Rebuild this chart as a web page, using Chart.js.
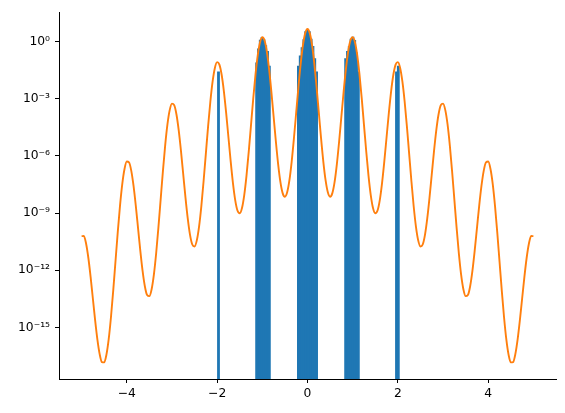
<!DOCTYPE html>
<html>
<head>
<meta charset="utf-8">
<script src="https://cdn.jsdelivr.net/npm/chart.js@4.4.1/dist/chart.umd.min.js"></script>
<style>
    html, body { margin: 0; padding: 0; background: #fff; }
    #chart { display: block; }
</style>
</head>
<body>
<canvas id="chart" width="565" height="413"></canvas>
<script>
// 曲线采样点横坐标
const curveX = [
    -5, -4.95, -4.9, -4.85, -4.8, -4.75, -4.7, -4.65, -4.6, -4.55,
    -4.5, -4.45, -4.4, -4.35, -4.3, -4.25, -4.2, -4.15, -4.1, -4.05,
    -4, -3.95, -3.9, -3.85, -3.8, -3.75, -3.7, -3.65, -3.6, -3.55,
    -3.5, -3.45, -3.4, -3.35, -3.3, -3.25, -3.2, -3.15, -3.1, -3.05,
    -3, -2.95, -2.9, -2.85, -2.8, -2.75, -2.7, -2.65, -2.6, -2.55,
    -2.5, -2.45, -2.4, -2.35, -2.3, -2.25, -2.2, -2.15, -2.1, -2.05,
    -2, -1.95, -1.9, -1.85, -1.8, -1.75, -1.7, -1.65, -1.6, -1.55,
    -1.5, -1.45, -1.4, -1.35, -1.3, -1.25, -1.2, -1.15, -1.1, -1.05,
    -1, -0.95, -0.9, -0.85, -0.8, -0.75, -0.7, -0.65, -0.6, -0.55,
    -0.5, -0.45, -0.4, -0.35, -0.3, -0.25, -0.2, -0.15, -0.1, -0.05,
    0,
    0.05, 0.1, 0.15, 0.2, 0.25, 0.3, 0.35, 0.4, 0.45, 0.5,
    0.55, 0.6, 0.65, 0.7, 0.75, 0.8, 0.85, 0.9, 0.95, 1,
    1.05, 1.1, 1.15, 1.2, 1.25, 1.3, 1.35, 1.4, 1.45, 1.5,
    1.55, 1.6, 1.65, 1.7, 1.75, 1.8, 1.85, 1.9, 1.95, 2,
    2.05, 2.1, 2.15, 2.2, 2.25, 2.3, 2.35, 2.4, 2.45, 2.5,
    2.55, 2.6, 2.65, 2.7, 2.75, 2.8, 2.85, 2.9, 2.95, 3,
    3.05, 3.1, 3.15, 3.2, 3.25, 3.3, 3.35, 3.4, 3.45, 3.5,
    3.55, 3.6, 3.65, 3.7, 3.75, 3.8, 3.85, 3.9, 3.95, 4,
    4.05, 4.1, 4.15, 4.2, 4.25, 4.3, 4.35, 4.4, 4.45, 4.5,
    4.55, 4.6, 4.65, 4.7, 4.75, 4.8, 4.85, 4.9, 4.95, 5
];

// 曲线纵坐标：在对数轴上读出的 10 的指数
const curveLog10 = [
    -10.207, -10.203, -10.606, -11.355, -12.356, -13.491, -14.628, -15.636, -16.395, -16.814,
    -16.830, -16.423, -15.614, -14.463, -13.064, -11.537, -10.011, -8.619, -7.479, -6.685,
    -6.298, -6.338, -6.784, -7.577, -8.621, -9.799, -10.980, -12.031, -12.834, -13.296,
    -13.355, -12.992, -12.226, -11.119, -9.764, -8.279, -6.797, -5.449, -4.352, -3.602,
    -3.258, -3.341, -3.831, -4.667, -5.755, -6.976, -8.200, -9.295, -10.142, -10.647,
    -10.749, -10.429, -9.707, -8.643, -7.332, -5.891, -4.452, -3.147, -2.094, -1.387,
    -1.086, -1.213, -1.746, -2.626, -3.757, -5.022, -6.289, -7.427, -8.317, -8.866,
    -9.012, -8.736, -8.057, -7.036, -5.768, -4.371, -2.975, -1.714, -0.704, -0.040,
    0.217, 0.047, -0.530, -1.453, -2.628, -3.936, -5.247, -6.428, -7.362, -7.954,
    -8.144, -7.910, -7.275, -6.298, -5.073, -3.719, -2.367, -1.149, -0.183, 0.437,
    0.651,
    0.437, -0.183, -1.149, -2.367, -3.719, -5.073, -6.298, -7.275, -7.910, -8.144,
    -7.954, -7.362, -6.428, -5.247, -3.936, -2.628, -1.453, -0.530, 0.047, 0.217,
    -0.040, -0.704, -1.714, -2.975, -4.371, -5.768, -7.036, -8.057, -8.736, -9.012,
    -8.866, -8.317, -7.427, -6.289, -5.022, -3.757, -2.626, -1.746, -1.213, -1.086,
    -1.387, -2.094, -3.147, -4.452, -5.891, -7.332, -8.643, -9.707, -10.429, -10.749,
    -10.647, -10.142, -9.295, -8.200, -6.976, -5.755, -4.667, -3.831, -3.341, -3.258,
    -3.602, -4.352, -5.449, -6.797, -8.279, -9.764, -11.119, -12.226, -12.992, -13.355,
    -13.296, -12.834, -12.031, -10.980, -9.799, -8.621, -7.577, -6.784, -6.338, -6.298,
    -6.685, -7.479, -8.619, -10.011, -11.537, -13.064, -14.463, -15.614, -16.423, -16.830,
    -16.814, -16.395, -15.636, -14.628, -13.491, -12.356, -11.355, -10.606, -10.203, -10.207
];

// 直方图：各非空箱的中心与密度
const binCenters = [
    -1.9699,
    -1.1257, -1.0855, -1.0453, -1.0051, -0.9649, -0.9247, -0.8845, -0.8443,
    -0.2011, -0.1609, -0.1207, -0.0805, -0.0403, -0.0001, 0.0401, 0.0803, 0.1205, 0.1607, 0.2009,
    0.8441, 0.8843, 0.9245, 0.9647, 1.0049, 1.0451, 1.0853, 1.1255,
    1.9697, 2.0099
];
const binDensity = [
    0.0249,
    0.0746, 0.398, 1.144, 1.592, 1.244, 0.597, 0.299, 0.0498,
    0.0498, 0.174, 0.473, 1.244, 3.185, 4.279, 3.234, 1.294, 0.547, 0.124, 0.0249,
    0.124, 0.299, 0.547, 1.294, 1.642, 1.120, 0.249, 0.0249,
    0.0249, 0.0498
];

// 坐标轴
const xTicks = [-4, -2, 0, 2, 4];
const xRange = [-5.5, 5.5];
const yTickExponents = [0, -3, -6, -9, -12, -15];
const yRangeExponents = [-17.70, 1.525];

const SUPERSCRIPT = {
    '0': '⁰', '1': '¹', '2': '²', '3': '³', '4': '⁴',
    '5': '⁵', '6': '⁶', '7': '⁷', '8': '⁸', '9': '⁹', '-': '⁻'
};

const tickFont = { family: 'DejaVu Sans', size: 12.3 };

// 10 的幂标签
function powerLabel(value) {
    const exp = Math.round(Math.log10(value));
    return '10' + String(exp).split('').map(c => SUPERSCRIPT[c]).join('');
}

const curveData = curveX.map((x, i) => ({ x: x, y: Math.pow(10, curveLog10[i]) }));
const histData = binCenters.map((x, i) => ({ x: x, y: binDensity[i] }));

new Chart(document.getElementById('chart'), {
    type: 'bar',
    data: {
        datasets: [
            {
                type: 'line',
                data: curveData,
                borderColor: '#ff7f0e',
                borderWidth: 1.9,
                pointRadius: 0,
                cubicInterpolationMode: 'monotone',
                fill: false,
                order: 1
            },
            {
                type: 'bar',
                data: histData,
                backgroundColor: '#1f77b4',
                borderWidth: 0,
                barPercentage: 1,
                categoryPercentage: 1,
                inflateAmount: 0.5,
                order: 2
            }
        ]
    },
    options: {
        responsive: false,
        animation: false,
        devicePixelRatio: 1,
        layout: {
            padding: { top: 10, right: 9, left: 0, bottom: 0 }
        },
        plugins: {
            legend: { display: false },
            tooltip: { enabled: false }
        },
        scales: {
            x: {
                type: 'linear',
                min: xRange[0],
                max: xRange[1],
                offset: false,
                grid: {
                    offset: false,
                    drawOnChartArea: false,
                    drawTicks: true,
                    tickLength: 4,
                    tickColor: '#000'
                },
                border: { display: true, color: '#000', width: 1 },
                afterBuildTicks(scale) {
                    scale.ticks = xTicks.map(v => ({ value: v }));
                },
                afterFit(scale) {
                    scale.height = 34;
                },
                ticks: {
                    autoSkip: false,
                    maxRotation: 0,
                    padding: 3,
                    color: '#000',
                    font: tickFont,
                    callback: value => String(value).replace('-', '\u2212')
                }
            },
            y: {
                type: 'logarithmic',
                min: Math.pow(10, yRangeExponents[0]),
                max: Math.pow(10, yRangeExponents[1]),
                grid: {
                    drawOnChartArea: false,
                    drawTicks: true,
                    tickLength: 4,
                    tickColor: '#000'
                },
                border: { display: true, color: '#000', width: 1 },
                afterBuildTicks(scale) {
                    scale.ticks = yTickExponents.map(e => ({ value: Math.pow(10, e) }));
                },
                afterFit(scale) {
                    scale.width = 59;
                },
                ticks: {
                    autoSkip: false,
                    padding: 5,
                    color: '#000',
                    font: tickFont,
                    callback: value => powerLabel(value)
                }
            }
        }
    }
});
</script>
</body>
</html>
